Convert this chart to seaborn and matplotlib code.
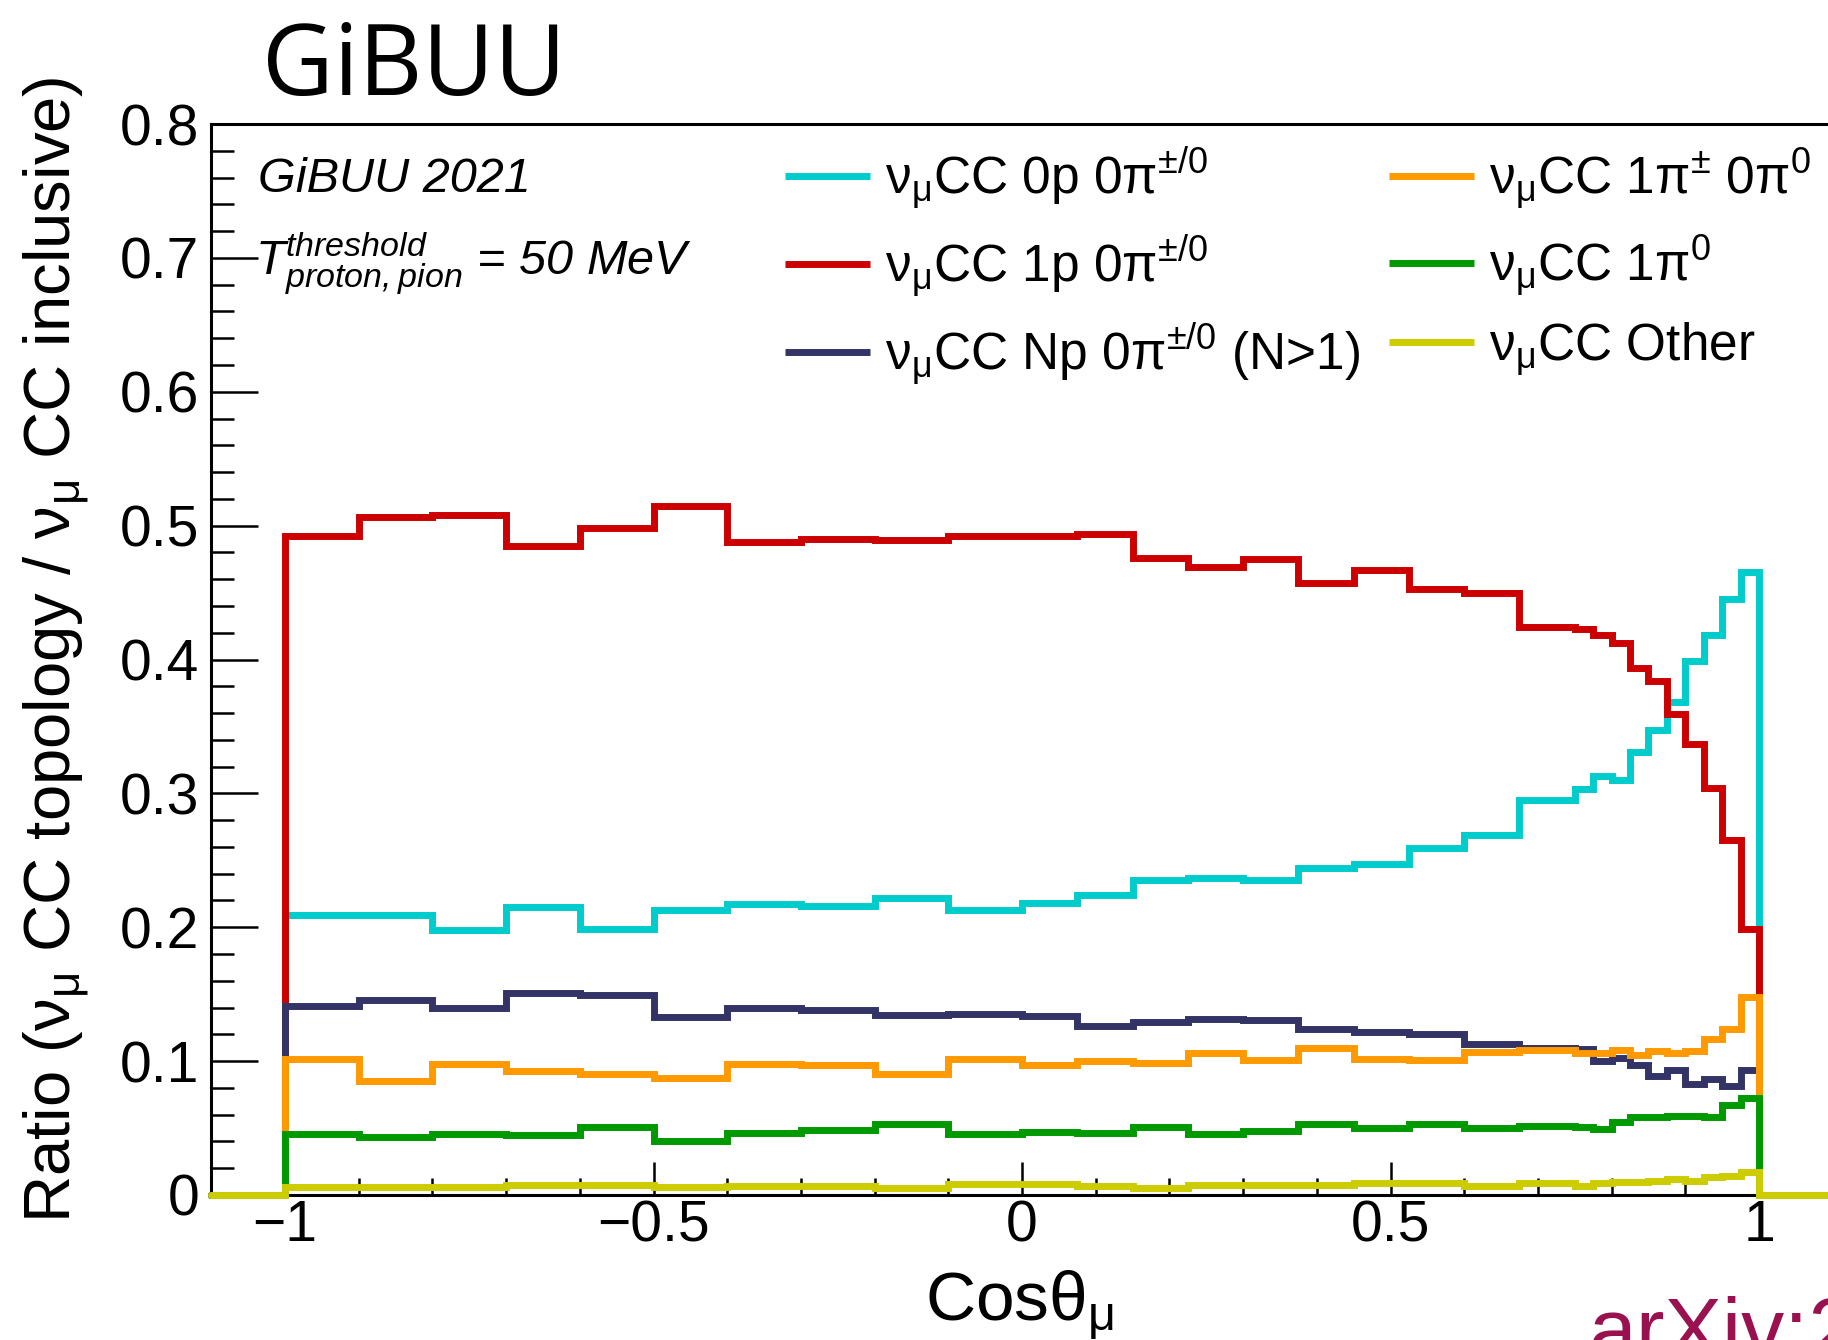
import numpy as np
import pandas as pd
import matplotlib
matplotlib.use("Agg")
import matplotlib.pyplot as plt
from matplotlib.lines import Line2D
from matplotlib.ticker import FixedLocator, MultipleLocator, FixedFormatter
import seaborn as sns

# ---------------- data ----------------
bin_edges = [-1.1, -1.0, -0.9, -0.8, -0.7, -0.6, -0.5, -0.4, -0.3, -0.2, -0.1, 0.0,
             0.075, 0.15, 0.225, 0.3, 0.375, 0.45, 0.525, 0.6, 0.675, 0.75,
             0.775, 0.8, 0.825, 0.85, 0.875, 0.9, 0.925, 0.95, 0.975, 1.0, 1.1]

cc0p0pi = [0.209, 0.209, 0.198, 0.215, 0.199, 0.213, 0.217, 0.216, 0.222, 0.213,
           0.218, 0.224, 0.235, 0.237, 0.235, 0.244, 0.247, 0.259, 0.269, 0.295,
           0.303, 0.313, 0.310, 0.331, 0.347, 0.368, 0.399, 0.418, 0.445, 0.465]
cc1p0pi = [0.492, 0.5065, 0.508, 0.485, 0.498, 0.515, 0.488, 0.490, 0.489, 0.492,
           0.492, 0.4935, 0.476, 0.469, 0.475, 0.457, 0.467, 0.453, 0.450, 0.424,
           0.423, 0.4185, 0.412, 0.394, 0.384, 0.359, 0.337, 0.304, 0.265, 0.199]
ccNp0pi = [0.141, 0.1454, 0.140, 0.151, 0.1497, 0.133, 0.140, 0.138, 0.1347, 0.1355,
           0.1335, 0.126, 0.1293, 0.1315, 0.1305, 0.1238, 0.1218, 0.1206, 0.1131, 0.1101,
           0.109, 0.1002, 0.102, 0.0974, 0.0887, 0.0932, 0.0828, 0.087, 0.0813, 0.0937]
cc1pic0pi0 = [0.1019, 0.085, 0.0977, 0.0925, 0.0907, 0.0877, 0.0977, 0.097, 0.0907, 0.1019,
              0.097, 0.1002, 0.0987, 0.1057, 0.1007, 0.1101, 0.1019, 0.1012, 0.1069, 0.1081,
              0.1057, 0.1062, 0.1081, 0.1044, 0.1077, 0.1064, 0.1077, 0.1168, 0.1243, 0.148]
cc1pi0 = [0.0452, 0.0435, 0.0455, 0.0447, 0.051, 0.0403, 0.046, 0.0485, 0.053, 0.0452,
          0.0472, 0.0465, 0.051, 0.0455, 0.0477, 0.053, 0.0497, 0.0527, 0.0497, 0.0517,
          0.051, 0.0492, 0.0547, 0.058, 0.0585, 0.0592, 0.0592, 0.0585, 0.0671, 0.0728]
ccother = [0.0057, 0.0057, 0.0057, 0.0075, 0.0075, 0.0062, 0.0067, 0.0067, 0.005, 0.008,
           0.0082, 0.0067, 0.0055, 0.0075, 0.0075, 0.0075, 0.0087, 0.0087, 0.007, 0.0087,
           0.007, 0.0087, 0.01, 0.01, 0.0104, 0.0117, 0.0107, 0.0132, 0.0144, 0.0169]

series_labels = [r"$\nu_{\mu}$CC 0p 0$\pi^{\pm/0}$",
                 r"$\nu_{\mu}$CC 1p 0$\pi^{\pm/0}$",
                 r"$\nu_{\mu}$CC Np 0$\pi^{\pm/0}$ (N>1)",
                 r"$\nu_{\mu}$CC 1$\pi^{\pm}$ 0$\pi^{0}$",
                 r"$\nu_{\mu}$CC 1$\pi^{0}$",
                 r"$\nu_{\mu}$CC Other"]
series_values = [cc0p0pi, cc1p0pi, ccNp0pi, cc1pic0pi0, cc1pi0, ccother]
series_colors = ["#00CCCC", "#CC0000", "#333366", "#FF9900", "#009900", "#CCCC00"]

xtick_values = [-1.0, -0.5, 0.0, 0.5, 1.0]
xtick_labels = ["\u22121", "\u22120.5", "0", "0.5", "1"]
ytick_values = [0.0, 0.1, 0.2, 0.3, 0.4, 0.5, 0.6, 0.7, 0.8]
ytick_labels = ["0", "0.1", "0.2", "0.3", "0.4", "0.5", "0.6", "0.7", "0.8"]

# ---------------- style ----------------
sns.set_theme(style="ticks")
plt.rcParams["font.family"] = ["Liberation Sans", "DejaVu Sans"]
plt.rcParams["mathtext.default"] = "regular"
plt.rcParams["axes.edgecolor"] = "black"
plt.rcParams["axes.labelcolor"] = "black"
plt.rcParams["text.color"] = "black"
plt.rcParams["xtick.color"] = "black"
plt.rcParams["ytick.color"] = "black"

W, H = 1828, 1340
fig = plt.figure(figsize=(W / 100, H / 100), dpi=100)
fig.patch.set_facecolor("white")

ax_left, ax_right = 211.3, 1832.7
ax_top, ax_bottom = 124.0, 1195.0
ax = fig.add_axes([ax_left / W, 1 - ax_bottom / H,
                   (ax_right - ax_left) / W, (ax_bottom - ax_top) / H])
ax.set_facecolor("white")

edges = np.array(bin_edges)
centers = 0.5 * (edges[:-1] + edges[1:])
rows = []
for lab, vals in zip(series_labels, series_values):
    w = [0.0] + list(vals) + [0.0]
    for c, v in zip(centers, w):
        rows.append({"cos": c, "ratio": v, "topology": lab})
df = pd.DataFrame(rows)

for i, (lab, col) in enumerate(zip(series_labels, series_colors)):
    sub = df[df["topology"] == lab]
    sns.histplot(data=sub, x="cos", weights="ratio", bins=bin_edges,
                 element="step", fill=False, color=col, linewidth=5,
                 clip_on=False, ax=ax, zorder=3 + i,
                 solid_joinstyle="miter")

ax.set_xlim(-1.1, 1.1)
ax.set_ylim(0, 0.8)

ax.xaxis.set_major_locator(FixedLocator(xtick_values))
ax.xaxis.set_major_formatter(FixedFormatter(xtick_labels))
ax.xaxis.set_minor_locator(MultipleLocator(0.1))
ax.yaxis.set_major_locator(FixedLocator(ytick_values))
ax.yaxis.set_major_formatter(FixedFormatter(ytick_labels))
ax.yaxis.set_minor_locator(MultipleLocator(0.02))

ax.tick_params(axis="both", which="both", direction="in", width=1.8,
               top=False, right=False, colors="black")
ax.tick_params(axis="y", which="major", length=34, pad=8.6, labelsize=41)
ax.tick_params(axis="y", which="minor", length=16.5)
ax.tick_params(axis="x", which="major", length=24, pad=3, labelsize=41)
ax.tick_params(axis="x", which="minor", length=12)

for s in ["left", "bottom", "top"]:
    ax.spines[s].set_linewidth(2.2)
    ax.spines[s].set_color("black")
ax.spines["right"].set_visible(False)

ax.set_xlabel(r"Cos$\theta_{\mu}$", fontsize=50, va="baseline", ha="center")
ax.xaxis.set_label_coords((1020 - ax_left) / (ax_right - ax_left),
                          (ax_bottom - 1320) / (ax_bottom - ax_top))
ax.set_ylabel(r"Ratio ($\nu_{\mu}$ CC topology / $\nu_{\mu}$ CC inclusive)",
              fontsize=47, rotation=90, rotation_mode="anchor",
              ha="left", va="baseline")
ax.yaxis.set_label_coords((70 - ax_left) / (ax_right - ax_left),
                          (ax_bottom - 1223) / (ax_bottom - ax_top))

# legend
handles = [Line2D([], [], color=c, lw=5, solid_capstyle="butt")
           for c in series_colors]
leg = ax.legend(handles, series_labels, ncol=2, frameon=False, fontsize=37,
                loc="center left",
                bbox_to_anchor=(785 / W, 1 - 267 / H),
                bbox_transform=fig.transFigure,
                borderpad=0, borderaxespad=0, handlelength=1.65,
                handletextpad=0.3, columnspacing=0.55, labelspacing=0.42)

# texts
fig.text(262 / W, 1 - 95 / H, "GiBUU", fontsize=71, family="Open Sans",
         ha="left", va="baseline", color="black")
fig.text(258 / W, 1 - 192 / H, "GiBUU 2021", fontsize=35, style="italic",
         ha="left", va="baseline")
fig.text(255 / W, 1 - 275 / H, r"$T^{threshold}_{proton,pion}$ = 50 MeV",
         fontsize=35, style="italic", ha="left", va="baseline")
fig.text(1588 / W, 1 - 1358 / H, "arXiv:2", fontsize=62, color="#99114F",
         ha="left", va="baseline")

fig.savefig("out.png", dpi=100, facecolor="white")
